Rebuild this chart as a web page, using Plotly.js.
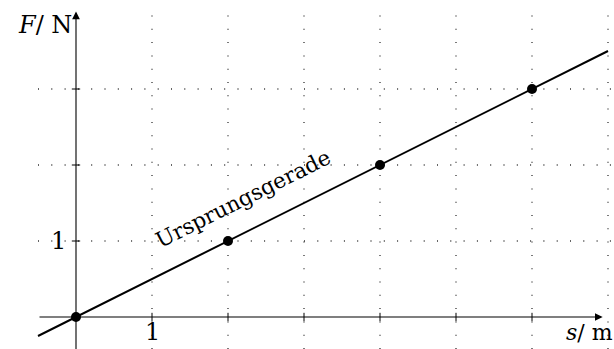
<!DOCTYPE html>
<html>
<head>
<meta charset="utf-8">
<script src="https://cdn.plot.ly/plotly-3.0.1.min.js"></script>
<style>html,body{margin:0;padding:0;background:#fff;}#chart{width:614px;height:349px;}</style>
</head>
<body>
<div id="chart"></div>
<script>
// data
const pointS = [0, 2, 4, 6];
const pointF = [0, 1, 2, 3];
const lineS = [-0.5, 7];
const lineF = [-0.25, 3.5];
const gridX = [1, 2, 3, 4, 5, 6, 7];
const gridY = [1, 2, 3];
const xTickVals = [1, 2, 3, 4, 5, 6];
const yTickVals = [1, 2, 3];
const xLabelVals = [1];
const yLabelVals = [1];
const lineLabel = 'Ursprungsgerade';
const xTitle = '<i>s</i>/ m';
const yTitle = '<i>F</i>/ N';

const X0 = -1.0, X1 = 7.079, Y0 = -0.421, Y1 = 4.171;
const FONT = '"DejaVu Serif", "Liberation Serif", serif';

const shapes = [];
gridX.forEach(v => shapes.push({type:'line', xref:'x', yref:'y', x0:v, x1:v, y0:Y0, y1:4.02,
  line:{color:'#333', width:1.3, dash:'1px,12.3px'}, layer:'below'}));
gridY.forEach(v => shapes.push({type:'line', xref:'x', yref:'y', x0:-0.5, x1:7.05, y0:v, y1:v,
  line:{color:'#333', width:1.3, dash:'1px,12.3px'}, layer:'below'}));
xTickVals.forEach(v => shapes.push({type:'line', xref:'x', yref:'y', x0:v, x1:v, y0:-0.055, y1:0.055,
  line:{color:'#000', width:1}}));
yTickVals.forEach(v => shapes.push({type:'line', xref:'x', yref:'y', x0:-0.055, x1:0.055, y0:v, y1:v,
  line:{color:'#000', width:1}}));

const annotations = [
  {x:6.93, y:0, ax:-0.5, ay:0, axref:'x', ayref:'y', xref:'x', yref:'y', text:'', showarrow:true,
   arrowhead:2, arrowsize:1.4, arrowwidth:1.1, arrowcolor:'#000'},
  {x:0, y:4.02, ax:0, ay:Y0-0.05, axref:'x', ayref:'y', xref:'x', yref:'y', text:'', showarrow:true,
   arrowhead:2, arrowsize:1.4, arrowwidth:1.1, arrowcolor:'#000'},
  {x:7.075, y:-0.21, xref:'x', yref:'y', text:xTitle, showarrow:false, xanchor:'right', yanchor:'middle',
   font:{family:FONT, size:22, color:'#000'}, borderpad:0},
  {x:-0.02, y:3.84, xref:'x', yref:'y', text:yTitle, showarrow:false, xanchor:'right', yanchor:'middle',
   font:{family:FONT, size:24, color:'#000'}},
  {x:2.2, y:1.56, xref:'x', yref:'y', text:lineLabel, showarrow:false, textangle:-26.57,
   font:{family:FONT, size:21.5, color:'#000'}}
];
xLabelVals.forEach(v => annotations.push({x:v, y:-0.2, xref:'x', yref:'y', text:String(v), showarrow:false,
  yanchor:'middle', font:{family:FONT, size:24, color:'#000'}}));
yLabelVals.forEach(v => annotations.push({x:-0.1, y:v, xref:'x', yref:'y', text:String(v), showarrow:false,
  xanchor:'right', yanchor:'middle', font:{family:FONT, size:24, color:'#000'}}));

const traces = [
  {x:lineS, y:lineF, mode:'lines', line:{color:'#000', width:2}, hoverinfo:'skip'},
  {x:pointS, y:pointF, mode:'markers', marker:{color:'#000', size:10}, hoverinfo:'skip'}
];

const layout = {
  width:614, height:349, margin:{l:0, r:0, t:0, b:0},
  paper_bgcolor:'#fff', plot_bgcolor:'#fff', showlegend:false,
  font:{family:FONT},
  xaxis:{range:[X0, X1], showgrid:false, zeroline:false, showticklabels:false, ticks:'', showline:false, fixedrange:true},
  yaxis:{range:[Y0, Y1], showgrid:false, zeroline:false, showticklabels:false, ticks:'', showline:false, fixedrange:true},
  shapes:shapes, annotations:annotations
};
Plotly.newPlot('chart', traces, layout, {staticPlot:true, displayModeBar:false});
</script>
</body>
</html>
